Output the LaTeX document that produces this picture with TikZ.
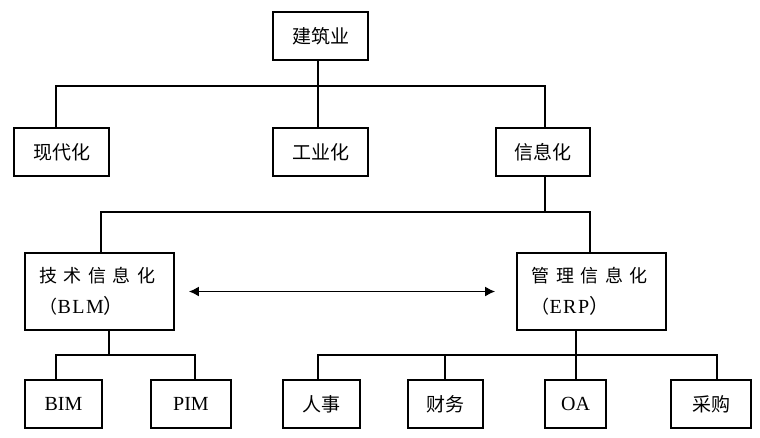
\documentclass[tikz,border=0pt]{standalone}
\usepackage{fontspec}
\setmainfont{Liberation Serif}
\newfontfamily\cjk{Noto Sans CJK SC}
\usetikzlibrary{arrows.meta}
\newcommand{\gp}{\kern6.5pt}
\tikzset{
  box/.style={draw, line width=1.6pt, inner sep=0pt, font=\fontsize{19}{22}\selectfont},
  small/.style={box, minimum height=48pt},
  big/.style={box, minimum width=149pt, minimum height=77pt, align=left, text width=120pt, font=\fontsize{18}{31}\selectfont},
  conn/.style={line width=1.2pt},
  arr/.style={line width=1.8pt, {Latex[length=10pt,width=10pt]}-{Latex[length=10pt,width=10pt]}}
}
\begin{document}
\begin{tikzpicture}[x=1pt,y=-1pt]
\useasboundingbox (0,0) rectangle (760,437);
\node[small, minimum width=95pt] (top) at (320.5,36) {\cjk 建筑业};
\node[small, minimum width=95pt] (xd) at (61.5,152) {\cjk 现代化};
\node[small, minimum width=95pt] (gy) at (320.5,152) {\cjk 工业化};
\node[small, minimum width=94pt] (xx) at (543,152) {\cjk 信息化};
\node[big] (js) at (99.5,291.5) {\cjk 技\gp 术\gp 信\gp 息\gp 化\\\cjk （\rmfamily\fontsize{20}{31}\selectfont B\kern1.5pt L\kern1.5pt M\cjk ）};
\node[big] (gl) at (591.5,291.5) {\cjk 管\gp 理\gp 信\gp 息\gp 化\\\cjk （\rmfamily\fontsize{20}{31}\selectfont E\kern1.5pt R\kern1.5pt P\cjk ）};
\node[small, minimum width=77pt, font=\fontsize{20}{22}\selectfont] (bim) at (63.5,404) {BIM};
\node[small, minimum width=80pt, font=\fontsize{20}{22}\selectfont] (pim) at (191,404) {PIM};
\node[small, minimum width=77pt] (rs) at (321.5,404) {\cjk 人事};
\node[small, minimum width=75pt] (cw) at (445.5,404) {\cjk 财务};
\node[small, minimum width=61pt, font=\fontsize{20}{22}\selectfont] (oa) at (575.5,404) {OA};
\node[small, minimum width=80pt] (cg) at (711,404) {\cjk 采购};
\coordinate (l1) at (0,86);
\coordinate (l2) at (0,212);
\coordinate (l3) at (0,355);
% level 1
\draw[conn] ([xshift=-2.5pt]top.south) -- ([xshift=-2.5pt]gy.north);
\draw[conn] ([xshift=-5.5pt]xd.north) -- ([xshift=-5.5pt]xd.north |- l1) -- ([xshift=2pt]xx.north |- l1) -- ([xshift=2pt]xx.north);
% level 2
\draw[conn] ([xshift=2pt]xx.south) -- ([xshift=2pt]xx.south |- l2);
\draw[conn] ([xshift=1.5pt]js.north) -- ([xshift=1.5pt]js.north |- l2) -- ([xshift=-1.5pt]gl.north |- l2) -- ([xshift=-1.5pt]gl.north);
% arrow
\draw[arr] ([xshift=14pt]js.east) -- ([xshift=-21pt]gl.west);
% level 3 left
\draw[conn] ([xshift=9.5pt]js.south) -- ([xshift=9.5pt]js.south |- l3);
\draw[conn] ([xshift=-7.5pt]bim.north) -- ([xshift=-7.5pt]bim.north |- l3) -- ([xshift=4pt]pim.north |- l3) -- ([xshift=4pt]pim.north);
% level 3 right
\draw[conn] ([xshift=-15.5pt]gl.south) -- ([xshift=0.5pt]oa.north);
\draw[conn] ([xshift=-3.5pt]rs.north) -- ([xshift=-3.5pt]rs.north |- l3) -- ([xshift=6pt]cg.north |- l3) -- ([xshift=6pt]cg.north);
\draw[conn] ([xshift=-0.5pt]cw.north) -- ([xshift=-0.5pt]cw.north |- l3);
\end{tikzpicture}
\end{document}
